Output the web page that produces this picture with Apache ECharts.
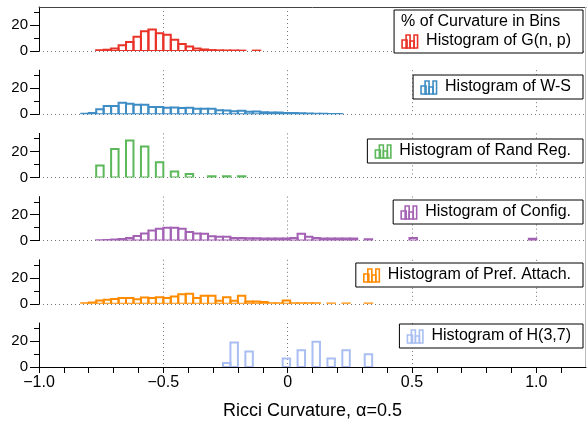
<!DOCTYPE html>
<html>
<head>
<meta charset="utf-8">
<script src="https://cdn.jsdelivr.net/npm/echarts@6/dist/echarts.min.js"></script>
<style>
  html, body { margin: 0; padding: 0; background: #fff; }
  #chart { width: 587px; height: 421px; }
</style>
</head>
<body>
<div id="chart"></div>
<script>
// All six histograms share one bin grid: bins of width 0.03 starting at -0.83.
const binOrigin = -0.83;
const binWidth = 0.03;

// Bottom axis ticks
const xTickValues = [-1, -0.5, 0, 0.5, 1];
const xTickLabels = ['\u22121.0', '\u22120.5', '0', '0.5', '1.0'];
// Left axis ticks (percent)
const yTickValues = [0, 20];

const seriesNames = [
  'Histogram of G(n, p)',
  'Histogram of W-S',
  'Histogram of Rand Reg.',
  'Histogram of Config.',
  'Histogram of Pref. Attach.',
  'Histogram of H(3,7)'
];
const seriesColors = ['#EA3328', '#3E8DC5', '#5CB85A', '#A462B5', '#FF8C00', '#A9BEF2'];

// % of curvature per bin; each list starts at the bin index given by its *Start value
const gnpStart = 2;
const gnp = [0.6, 1.0, 2.0, 4.5, 7.0, 11.0, 15.3, 16.7, 13.7, 12.5, 8.7, 5.4, 3.4, 1.9, 1.2, 0.7, 0.5, 0.4, 0.4, 0.3, 0, 0.3];

const wsStart = 0;
const ws = [0.3, 1.0, 3.9, 6.3, 6.3, 8.8, 8.0, 7.3, 7.3, 5.6, 5.5, 4.9, 5.2, 4.7, 4.9, 4.2, 4.2, 4.2, 3.1, 2.9, 2.3, 2.6, 1.8, 2.1, 1.6, 1.3, 1.3, 1.0, 1.0, 0.7, 0.5, 0.4, 0.3, 0.2, 0.2];

const randRegStart = 2;
const randReg = [9.2, 0, 22.0, 0, 28.5, 0, 23.8, 0, 11.8, 0, 4.6, 0, 2.6, 0, 0, 0.8, 0, 0.8, 0, 0.8];

const configStart = 2;
const config = [0.3, 0.5, 0.8, 1.2, 2.0, 3.5, 5.5, 7.9, 9.2, 10.0, 10.0, 9.2, 6.6, 5.5, 5.3, 3.4, 2.9, 2.9, 2.1, 2.1, 1.8, 1.8, 1.6, 1.6, 1.6, 1.6, 2.1, 5.3, 2.9, 2.1, 1.6, 1.6, 1.6, 1.6, 1.6, 0, 1.0, 0, 0, 0, 0, 0, 2.0, 0, 0, 0, 0, 0, 0, 0, 0, 0, 0, 0, 0, 0, 0, 0, 1.5];

const prefStart = 0;
const pref = [0.5, 1.0, 2.6, 3.1, 3.8, 4.4, 4.4, 3.6, 4.9, 4.4, 5.1, 4.4, 5.6, 7.4, 7.7, 4.4, 6.2, 6.2, 2.3, 5.1, 2.3, 6.2, 1.8, 1.8, 1.3, 0.5, 0.5, 2.6, 0.5, 0.5, 0.4, 0.4, 0, 0.3, 0, 0.3, 0, 0, 0.3];

const h37Start = 19;
const h37 = [3.1, 19.0, 0, 12.0, 0, 0, 0, 0, 6.5, 0, 13.0, 0, 19.5, 0, 6.5, 0, 13.0, 0, 0, 9.9];

const histograms = [
  [gnpStart, gnp], [wsStart, ws], [randRegStart, randReg],
  [configStart, config], [prefStart, pref], [h37Start, h37]
];

// ---- layout ----
const FONT = '"Liberation Sans", Arial, Helvetica, sans-serif';
const panelHeight = 44;
const firstBaseline = 51;
const panelStep = 63.2;
const plotLeft = 39;
const plotRight = 1;
const yMax = 34;
const legendTops = [10, 75, 139, 200, 263, 324];
const legendRight = 583;

const chart = echarts.init(document.getElementById('chart'), null, { renderer: 'canvas' });

const grids = [], xAxes = [], yAxes = [], series = [];
const dotted = { color: '#777', type: [1, 3], width: 1 };

histograms.forEach(function (h, i) {
  const baseline = firstBaseline + panelStep * i;
  const isLast = i === histograms.length - 1;
  grids.push({ left: plotLeft, right: plotRight, top: baseline - panelHeight, height: panelHeight });

  xAxes.push({
    type: 'value', gridIndex: i, min: -1, max: 1.2, interval: 0.5,
    position: i === 0 ? 'top' : 'bottom',
    axisLine: { show: i === 0 || isLast, onZero: false, lineStyle: { color: i === 0 ? '#444' : '#000', width: 1 } },
    axisTick: isLast ? { show: true, customValues: xTickValues, length: 6, lineStyle: { color: '#000' } } : { show: false },
    minorTick: { show: isLast, splitNumber: 5, length: 6, lineStyle: { color: '#000' } },
    axisLabel: isLast ? {
      show: true, customValues: xTickValues, margin: 8, fontSize: 16, color: '#000', fontFamily: FONT,
      formatter: function (v) { return xTickLabels[xTickValues.indexOf(Math.round(v * 10) / 10)]; }
    } : { show: false },
    splitLine: { show: true, showMinLine: false, showMaxLine: false, lineStyle: dotted },
    name: isLast ? 'Ricci Curvature, \u03b1=0.5' : '',
    nameLocation: 'middle', nameGap: 35,
    nameTextStyle: { fontSize: 18, color: '#000', fontFamily: FONT }
  });

  yAxes.push({
    type: 'value', gridIndex: i, min: 0, max: yMax, interval: 20,
    axisLine: { show: true, onZero: false, lineStyle: { color: '#000', width: 1 } },
    axisTick: { show: true, customValues: yTickValues, length: 9, lineStyle: { color: '#000' } },
    minorTick: { show: true, splitNumber: 2, length: 5, lineStyle: { color: '#000' } },
    axisLabel: { show: true, customValues: yTickValues, margin: 11, fontSize: 15, color: '#000', fontFamily: FONT },
    splitLine: { show: true, showMaxLine: false, lineStyle: dotted }
  });

  const start = h[0], values = h[1];
  const data = [];
  values.forEach(function (v, j) {
    if (v > 0) {
      const left = binOrigin + (start + j) * binWidth;
      data.push([left, left + binWidth, v]);
    }
  });
  const color = seriesColors[i];
  series.push({
    type: 'custom', name: seriesNames[i], xAxisIndex: i, yAxisIndex: i,
    data: data, clip: true, z: 3,
    encode: { x: [0, 1], y: 2 },
    renderItem: function (params, api) {
      const p0 = api.coord([api.value(0), 0]);
      const p1 = api.coord([api.value(1), api.value(2)]);
      return {
        type: 'rect',
        shape: { x: p0[0], y: p1[1], width: p1[0] - p0[0], height: p0[1] - p1[1] },
        style: { fill: 'none', stroke: color, lineWidth: 2 }
      };
    }
  });
});

// ---- legend boxes ----
const measureCtx = document.createElement('canvas').getContext('2d');
function textWidth(s, size) {
  measureCtx.font = size + 'px ' + FONT;
  return measureCtx.measureText(s).width;
}
function histIcon(x, y, color) {
  // small outlined-bar glyph
  const bars = [[0, 5, 8], [4, 4, 13], [8, 4, 7], [12, 3.5, 13]];
  return bars.map(function (b) {
    return {
      type: 'rect', shape: { x: x + b[0], y: y + 14 - b[2], width: b[1], height: b[2] },
      style: { fill: 'none', stroke: color, lineWidth: 1.6 }, z: 11
    };
  });
}
const graphics = [];
seriesNames.forEach(function (name, i) {
  const tw = textWidth(name, 16);
  const top = legendTops[i];
  let w = 8 + 16 + 8 + tw + 12;
  let h = 24;
  const lines = [];
  if (i === 0) {
    const title = '% of Curvature in Bins';
    w = Math.max(w, 7 + textWidth(title, 16) + 12);
    h = 43;
    lines.push({ type: 'text', x: legendRight - w + 7, y: top + 12, z: 11,
      style: { text: title, font: '16px ' + FONT, fill: '#000', verticalAlign: 'middle' } });
  }
  const left = legendRight - w;
  graphics.push({ type: 'rect', shape: { x: left, y: top, width: w, height: h }, z: 10,
    style: { fill: '#fff', stroke: '#000', lineWidth: 1 } });
  const rowMid = top + h - 12;
  Array.prototype.push.apply(graphics, histIcon(left + 8, rowMid - 7, seriesColors[i]));
  graphics.push({ type: 'text', x: left + 32, y: rowMid, z: 11,
    style: { text: name, font: '16px ' + FONT, fill: '#000', verticalAlign: 'middle' } });
  Array.prototype.push.apply(graphics, lines);
});
// right frame edge
graphics.push({ type: 'line', z: 1,
  shape: { x1: 585.5, y1: firstBaseline - panelHeight, x2: 585.5, y2: firstBaseline + panelStep * 5 },
  style: { stroke: '#bbb', lineWidth: 1 } });

chart.setOption({
  animation: false,
  textStyle: { fontFamily: FONT },
  grid: grids,
  xAxis: xAxes,
  yAxis: yAxes,
  series: series,
  graphic: graphics
});
</script>
</body>
</html>
